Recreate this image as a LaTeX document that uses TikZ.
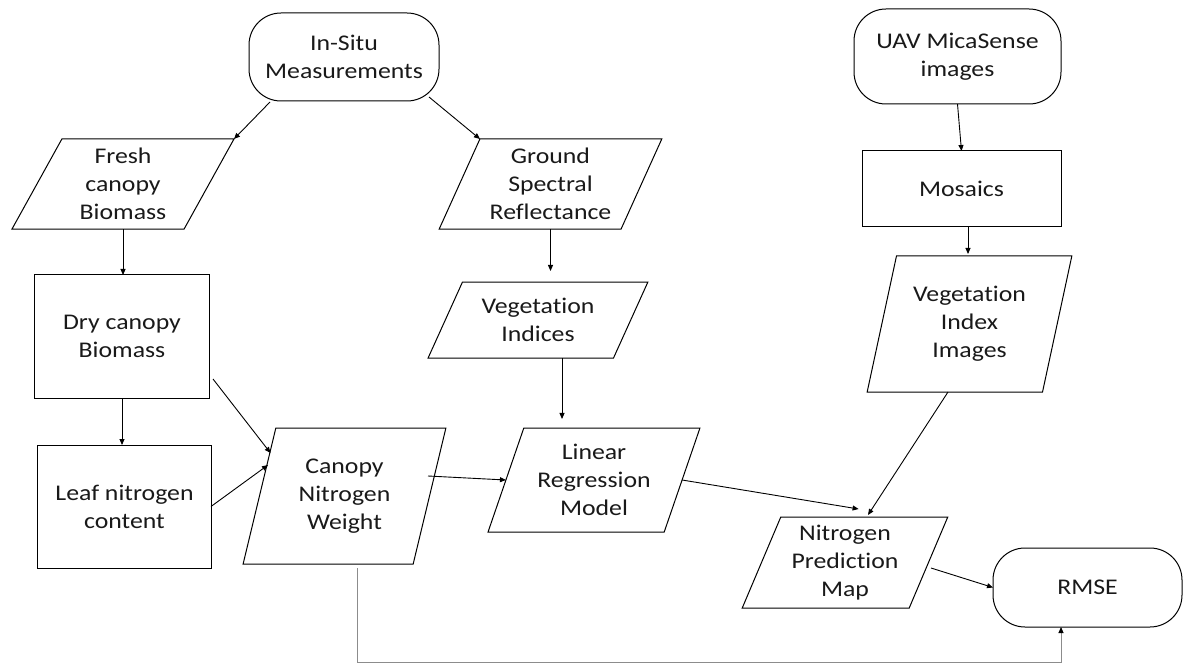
\documentclass[tikz,border=0pt]{standalone}
\usepackage{fontspec}
\setmainfont{Carlito}[FakeStretch=1.15, Ligatures=CommonOff]
\usetikzlibrary{shapes.geometric,arrows.meta,calc}
\begin{document}
\begin{tikzpicture}[x=1bp,y=-1bp,
  every node/.style={font=\fontsize{22.5}{28}\selectfont, align=center, inner sep=0pt, outer sep=0pt, line width=1bp, text=black!90},
  term/.style={draw, rectangle, rounded corners=32bp},
  stepbox/.style={draw, rectangle},
  para/.style={draw, trapezium, trapezium stretches=true},
  arr/.style={-{Triangle[length=6bp,width=5bp]}, line width=0.9bp},
  fb/.style={-{Triangle[length=6bp,width=5bp,black]}, line width=1bp, draw=black!45}]
\useasboundingbox (0,0) rectangle (1186,664);

\node[term, minimum width=190bp, minimum height=88bp] (insitu) at (344,57) {In-Situ\\Measurements};
\node[term, minimum width=207bp, minimum height=95bp] (uav) at (957.5,56.5) {UAV MicaSense\\images};
\node[term, minimum width=189bp, minimum height=79bp] (rmse) at (1087.5,587.5) {RMSE};
\node[stepbox, minimum width=199bp, minimum height=75bp] (mosaics) at (961.5,188.5) {Mosaics};
\node[stepbox, minimum width=174bp, minimum height=123bp] (dry) at (122,336.5) {Dry canopy\\Biomass};
\node[stepbox, minimum width=173bp, minimum height=123bp] (leaf) at (124.5,506.5) {Leaf nitrogen\\content};

\node[para, trapezium left angle=63.7, trapezium right angle=116.3, minimum width=222.5bp, minimum height=90bp] (fresh) at (123,184) {Fresh\\canopy\\Biomass};
\node[para, trapezium left angle=63.9, trapezium right angle=116.1, minimum width=223bp, minimum height=90bp] (ground) at (550.5,184) {Ground\\Spectral\\Reflectance};
\node[para, trapezium left angle=59.4, trapezium right angle=120.6, minimum width=220bp, minimum height=76bp] (vegidx) at (538,320) {Vegetation\\Indices};
\node[para, trapezium left angle=73.6, trapezium right angle=106.4, minimum width=203bp, minimum height=136bp] (canopy) at (344.5,496) {Canopy\\Nitrogen\\Weight};
\node[para, trapezium left angle=68, trapezium right angle=112, minimum width=212bp, minimum height=104bp] (linear) at (594,480) {Linear\\Regression\\Model};
\node[para, trapezium left angle=73.2, trapezium right angle=106.8, minimum width=205bp, minimum height=136bp] (viimg) at (969.5,324) {Vegetation\\Index\\Images};
\node[para, trapezium left angle=66.8, trapezium right angle=113.2, minimum width=206bp, minimum height=91bp] (npm) at (845,562.5) {Nitrogen\\Prediction\\Map};

\draw[arr] ($(insitu.south)+(-74,1)$) -- (fresh.top right corner);
\draw[arr] ($(insitu.south)+(85,-4)$) -- (ground.top left corner);
\draw[arr] (fresh.south) -- (fresh.south |- dry.north);
\draw[arr] (dry.south) -- (dry.south |- leaf.north);
\draw[arr] ($(dry.east)+(4,42.5)$) -- ($(canopy.center)+(-74,-43)$);
\draw[arr] (leaf.east) -- ($(canopy.center)+(-76.5,-31)$);
\draw[arr] ($(canopy.center)+(83.5,-20)$) -- (linear.west);
\draw[arr] (ground.south) -- ($(ground.south |- vegidx.north)+(0,-11)$);
\draw[arr] ($(vegidx.south)+(24,0)$) -- ($(vegidx.south |- linear.north)+(24,-9)$);
\draw[arr] (linear.east) -- ($(npm.center)+(13.6,-53.5)$);
\draw[arr] (uav.south) -- (mosaics.north);
\draw[arr] ($(mosaics.south)+(6.5,0)$) -- ($(mosaics.south |- viimg.north)+(6.5,-2)$);
\draw[arr] ($(viimg.center)+(-21.5,68)$) -- ($(npm.center)+(23,-47.5)$);
\draw[arr] ($(npm.center)+(86,5.5)$) -- (rmse.west);
\draw[fb] ($(canopy.south)+(12.5,4)$) -- ++(0,94) -| ($(rmse.south)+(-26.5,0)$);
\end{tikzpicture}
\end{document}
